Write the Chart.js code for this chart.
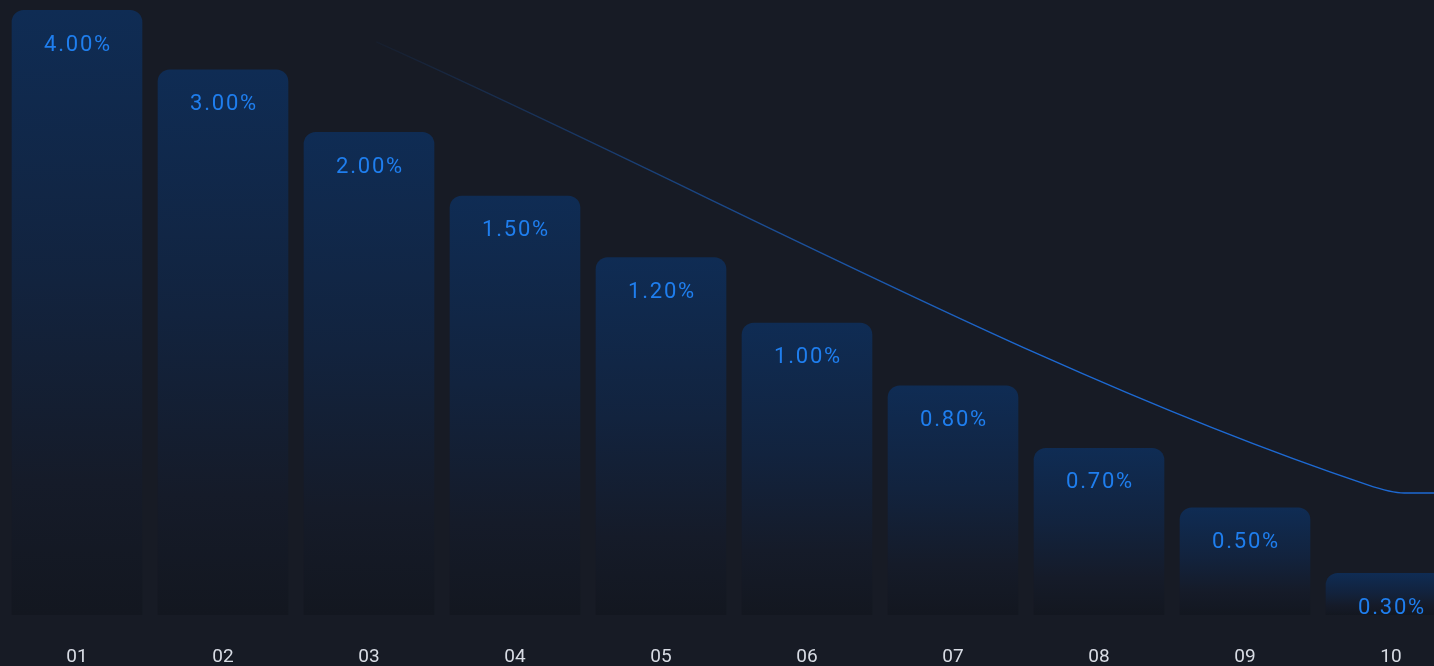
<!DOCTYPE html>
<html>
<head>
<meta charset="utf-8">
<script src="https://cdn.jsdelivr.net/npm/chart.js@4"></script>
<style>
  html, body { margin: 0; padding: 0; background: #171b25; overflow: hidden; }
  #wrap { position: relative; width: 1468px; height: 666px; }
</style>
</head>
<body>
<div id="wrap"><canvas id="c"></canvas></div>
<script>
const categories = ['01', '02', '03', '04', '05', '06', '07', '08', '09', '10'];
const rateLabels = ['4.00%', '3.00%', '2.00%', '1.50%', '1.20%', '1.00%', '0.80%', '0.70%', '0.50%', '0.30%'];
const barLevels = [10, 9.05, 8.05, 7.03, 6.05, 5, 4, 3, 2.05, 1];
const trendX = [2.05, 8.84, 9.09, 9.6];
const trendY = [9.49, 2.41, 2.28, 2.28];

const trendPoints = trendX.map((x, i) => ({ x: x, y: trendY[i] }));

const barLabelPlugin = {
  id: 'barLabels',
  afterDatasetsDraw(chart) {
    const meta = chart.getDatasetMeta(0);
    const c = chart.ctx;
    c.save();
    c.font = '400 22px Roboto, "Noto Sans", sans-serif';
    if ('letterSpacing' in c) c.letterSpacing = '1.8px';
    c.fillStyle = '#1f7eee';
    c.textAlign = 'center';
    c.textBaseline = 'middle';
    meta.data.forEach((el, i) => {
      c.fillText(rateLabels[i], el.x + 1, el.y + 35);
    });
    c.restore();
  }
};

function barGradient(context) {
  const chart = context.chart;
  const area = chart.chartArea;
  if (!area || context.type !== 'data') return '#10284a';
  const yScale = chart.scales.y;
  const top = yScale.getPixelForValue(context.raw);
  const bottom = area.bottom;
  const g = chart.ctx.createLinearGradient(0, top, 0, bottom);
  g.addColorStop(0, 'rgba(15, 44, 84, 1)');
  g.addColorStop(0.45, 'rgba(18, 35, 62, 1)');
  g.addColorStop(0.78, 'rgba(21, 27, 41, 1)');
  g.addColorStop(1, 'rgba(19, 23, 32, 1)');
  return g;
}

function lineGradient(context) {
  const chart = context.chart;
  const area = chart.chartArea;
  if (!area || !chart.scales.x2) return '#1d63c4';
  const s = chart.scales.x2;
  const x0 = s.getPixelForValue(trendX[0]);
  const x1 = s.getPixelForValue(6.5);
  const g = chart.ctx.createLinearGradient(x0, 0, x1, 0);
  g.addColorStop(0, 'rgba(29, 99, 196, 0.05)');
  g.addColorStop(0.4, 'rgba(29, 99, 196, 0.5)');
  g.addColorStop(1, 'rgba(29, 105, 210, 1)');
  return g;
}

new Chart(document.getElementById('c'), {
  type: 'bar',
  data: {
    labels: categories,
    datasets: [
      {
        type: 'bar',
        data: barLevels,
        xAxisID: 'x',
        yAxisID: 'y',
        backgroundColor: barGradient,
        borderWidth: 0,
        borderSkipped: false,
        borderRadius: { topLeft: 12, topRight: 12, bottomLeft: 6, bottomRight: 6 },
        categoryPercentage: 1,
        barPercentage: 0.895,
        grouped: false,
        order: 2
      },
      {
        type: 'line',
        data: trendPoints,
        xAxisID: 'x2',
        yAxisID: 'y',
        borderColor: lineGradient,
        borderWidth: 1.4,
        pointRadius: 0,
        fill: false,
        cubicInterpolationMode: 'monotone',
        clip: false,
        order: 1
      }
    ]
  },
  options: {
    responsive: true,
    maintainAspectRatio: false,
    animation: false,
    layout: { padding: { left: 4, right: 4, top: 10, bottom: 4 } },
    plugins: { legend: { display: false }, tooltip: { enabled: false } },
    scales: {
      x: {
        type: 'category',
        offset: true,
        grid: { display: false, drawTicks: false },
        border: { display: false },
        ticks: {
          color: '#d8dce4',
          font: { family: 'Roboto, "Noto Sans", sans-serif', size: 19, weight: '400' },
          padding: 31
        },
        afterFit: (scale) => { scale.height = 47; }
      },
      x2: {
        type: 'linear',
        min: -0.5,
        max: 9.5,
        offset: false,
        display: false
      },
      y: {
        min: 0.33,
        max: 10,
        display: false
      }
    }
  },
  plugins: [barLabelPlugin]
});
</script>
</body>
</html>
